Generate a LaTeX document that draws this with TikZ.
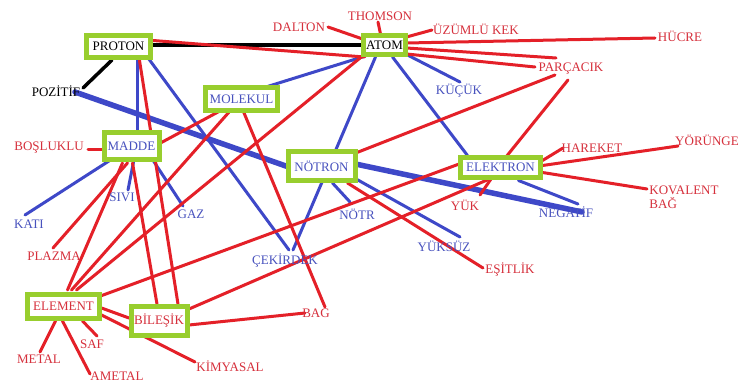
\documentclass[tikz,border=0pt]{standalone}
\usepackage{fontspec}
\setmainfont{Liberation Serif}
\usetikzlibrary{calc}
\pgfdeclarelayer{bg}
\pgfsetlayers{bg,main}
\definecolor{lred}{RGB}{228,32,40}
\definecolor{lblue}{RGB}{62,72,200}
\definecolor{tred}{RGB}{214,48,60}
\definecolor{tblue}{RGB}{72,82,190}
\definecolor{boxg}{RGB}{152,206,46}
\begin{document}
\begin{tikzpicture}[x=1pt,y=-1pt,font=\fontsize{13}{14}\selectfont,
  gbox/.style={draw=boxg,line width=5pt,fill=white,inner sep=0pt},
  lbl/.style={inner sep=1pt},
  rl/.style={lred,line width=3pt,line cap=round},
  bl/.style={lblue,line width=3pt,line cap=round},
  tbl/.style={lblue,line width=5.5pt,line cap=round},
  kl/.style={black,line width=3.5pt,line cap=round}]
\useasboundingbox (0,0) rectangle (739,385);
% boxed concepts
\node[gbox,minimum width=64pt,minimum height=22pt] (proton) at (118.5,46.5) {PROTON};
\node[gbox,minimum width=42pt,minimum height=19pt] (atom) at (384.5,45) {ATOM};
\node[gbox,minimum width=72pt,minimum height=23pt,text=tblue] (molekul) at (241.5,99.5) {MOLEKUL};
\node[gbox,minimum width=55pt,minimum height=27pt,text=tblue] (madde) at (131.5,146) {MADDE};
\node[gbox,minimum width=67pt,minimum height=28pt,text=tblue] (notron) at (321.5,166) {NÖTRON};
\node[gbox,minimum width=80pt,minimum height=20pt,text=tblue] (elektron) at (500.5,167.5) {ELEKTRON};
\node[gbox,minimum width=72pt,minimum height=24pt,text=tred] (element) at (63.5,306) {ELEMENT};
\node[gbox,minimum width=56pt,minimum height=29pt,text=tred] (bilesik) at (159,321) {BİLEŞİK};
% plain labels
\node[lbl] (poz) at (56,91) {POZİTİF};
\node[lbl,text=tred] (dalton) at (299,27) {DALTON};
\node[lbl,text=tred] (thomson) at (380,16) {THOMSON};
\node[lbl,text=tred] (uzumlu) at (476,29) {ÜZÜMLÜ KEK};
\node[lbl,text=tred] (hucre) at (680,36) {HÜCRE};
\node[lbl,text=tred] (parcacik) at (571,69) {PARÇACIK};
\node[lbl,text=tblue] (kucuk) at (459,91) {KÜÇÜK};
\node[lbl,text=tred] (hareket) at (592,148) {HAREKET};
\node[lbl,text=tred] (yorunge) at (707,140) {YÖRÜNGE};
\node[lbl,text=tred,align=left] (kovalent) at (684,197) {KOVALENT\\BAĞ};
\node[lbl,text=tred] (yuk) at (465,205) {YÜK};
\node[lbl,text=tblue] (neg) at (566,212) {NEGATİF};
\node[lbl,text=tblue] (yuksuz) at (444,246) {YÜKSÜZ};
\node[lbl,text=tred] (esitlik) at (510,270) {EŞİTLİK};
\node[lbl,text=tred] (bosluklu) at (49,148) {BOŞLUKLU};
\node[lbl,text=tblue] (kati) at (29,224) {KATI};
\node[lbl,text=tblue] (sivi) at (122,197) {SIVI};
\node[lbl,text=tblue] (gaz) at (191,214) {GAZ};
\node[lbl,text=tred] (plazma) at (54,256) {PLAZMA};
\node[lbl,text=tblue] (cekirdek) at (285,261) {ÇEKİRDEK};
\node[lbl,text=tblue] (notr) at (357,214) {NÖTR};
\node[lbl,text=tred] (bag) at (316,313) {BAG};
\node[lbl,text=tred] (metal) at (39,359) {METAL};
\node[lbl,text=tred] (saf) at (92,344) {SAF};
\node[lbl,text=tred] (ametal) at (117,376) {AMETAL};
\node[lbl,text=tred] (kimyasal) at (230,366) {KİMYASAL};
\begin{pgfonlayer}{bg}
\fill[white] (0,0) rectangle (739,385);
% black
\draw[kl] ($(proton)+(34.5,-1.5)$) -- ($(atom)+(-22,0)$);
\draw[kl] ($(proton)+(-6.5,13.5)$) -- ($(poz)+(27,-3)$);
% thick blue
\draw[tbl] ($(poz)+(19,1)$) -- ($(notron)+(-30,2)$);
\draw[tbl] ($(notron)+(34,-2)$) -- ($(neg)+(16,0)$);
% blue
\draw[bl] ($(proton)+(18.5,13.5)$) -- ($(madde)+(5.5,-12)$);
\draw[bl] ($(proton)+(30,12)$) -- ($(cekirdek)+(4,-11)$);
\draw[bl] ($(atom)+(-9,12)$) -- ($(cekirdek)+(8,-11)$);
\draw[bl] ($(atom)+(-19,11)$) -- ($(molekul)+(26,-13)$);
\draw[bl] ($(atom)+(23,10)$) -- ($(kucuk)+(1,-9)$);
\draw[bl] ($(atom)+(8,12)$) -- ($(elektron)+(-33,-12)$);
\draw[bl] ($(madde)+(-21,14)$) -- ($(kati)+(-4,-9)$);
\draw[bl] ($(madde)+(2,16)$) -- ($(sivi)+(6,-7)$);
\draw[bl] ($(madde)+(22,15)$) -- ($(gaz)+(-8,-8)$);
\draw[bl] ($(notron)+(11,17)$) -- ($(notr)+(-7,-12)$);
\draw[bl] ($(notron)+(31,11)$) -- ($(yuksuz)+(16,-9)$);
\draw[bl] ($(elektron)+(18,13)$) -- ($(neg)+(12,-8)$);
% red
\draw[rl] ($(proton)+(34.5,-6)$) -- ($(atom)+(-20,12)$);
\draw[rl] ($(dalton)+(29,0)$) -- ($(atom)+(-19,-5)$);
\draw[rl] ($(thomson)+(-2,6)$) -- ($(atom)+(-4,-11)$);
\draw[rl] ($(uzumlu)+(-44,1)$) -- ($(atom)+(22,-8)$);
\draw[rl] ($(atom)+(22,-2)$) -- ($(hucre)+(-25,2)$);
\draw[rl] ($(atom)+(22,3)$) -- ($(parcacik)+(-15,-11)$);
\draw[rl] ($(atom)+(22,9)$) -- ($(parcacik)+(-36,-2)$);
\draw[rl] ($(parcacik)+(-16,6)$) -- ($(notron)+(24,-9)$);
\draw[rl] ($(parcacik)+(-3,11)$) -- ($(elektron)+(-3,0)$);
\draw[rl] ($(elektron)+(-3,2)$) -- ($(yuk)+(15,-10)$);
\draw[rl] ($(elektron)+(42,-7)$) -- ($(hareket)+(-29,0)$);
\draw[rl] ($(elektron)+(42,-2)$) -- ($(yorunge)+(-29,6)$);
\draw[rl] ($(elektron)+(42,5)$) -- ($(kovalent)+(-37,-8)$);
\draw[rl] ($(bosluklu)+(39,2)$) -- ($(madde)+(-14,4)$);
\draw[rl] ($(madde)+(29,-3)$) -- ($(molekul)+(-4,2)$);
\draw[rl] ($(madde)+(-4,17)$) -- ($(plazma)+(-1,-8)$);
\draw[rl] ($(madde)+(-9,17)$) -- ($(element)+(4,-16)$);
\draw[rl] ($(madde)+(1,17)$) -- ($(bilesik)+(-2,-17)$);
\draw[rl] ($(proton)+(21,14)$) -- ($(bilesik)+(19,-17)$);
\draw[rl] ($(molekul)+(-4,3)$) -- ($(element)+(8,-16)$);
\draw[rl] ($(atom)+(-22,11)$) -- ($(element)+(13,-16)$);
\draw[rl] ($(molekul)+(-1,5)$) -- ($(bag)+(9,-6)$);
\draw[rl] ($(element)+(37,-10)$) -- ($(elektron)+(-40,-4)$);
\draw[rl] ($(bilesik)+(30,-12)$) -- ($(elektron)+(-10,11)$);
\draw[rl] ($(notron)+(26,17)$) -- ($(esitlik)+(-27,-2)$);
\draw[rl] ($(element)+(38,2)$) -- ($(bilesik)+(-30,-3)$);
\draw[rl] ($(element)+(38,9)$) -- ($(kimyasal)+(-35,-4)$);
\draw[rl] ($(element)+(-8,15)$) -- ($(metal)+(1,-7)$);
\draw[rl] ($(element)+(-1,15)$) -- ($(ametal)+(-27,-2)$);
\draw[rl] ($(element)+(19,15)$) -- ($(saf)+(5,-8)$);
\draw[rl] ($(bilesik)+(30,4)$) -- ($(bag)+(-11,0)$);
\end{pgfonlayer}
\end{tikzpicture}
\end{document}
